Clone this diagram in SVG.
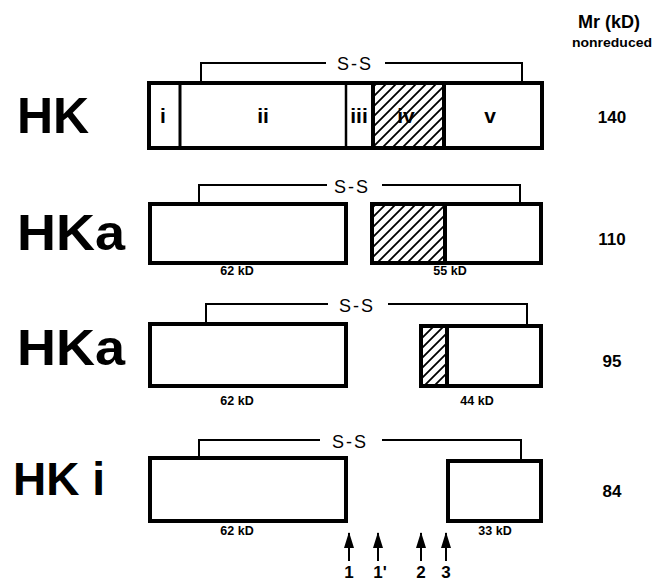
<svg xmlns="http://www.w3.org/2000/svg" width="667" height="582" viewBox="0 0 667 582">
<style>
.box{fill:#fff;stroke:#000;stroke-width:4}
.hatch{fill:url(#hatch);stroke:#000;stroke-width:4}
.div{stroke:#000;stroke-width:3}
.br{fill:none;stroke:#000;stroke-width:2}
.big{font-family:"Liberation Sans",Arial,sans-serif;font-weight:bold;font-size:50px;fill:#000}
.dom{font-family:"Liberation Sans",Arial,sans-serif;font-weight:bold;font-size:21px;fill:#000;text-anchor:middle}
.kd{font-family:"Liberation Sans",Arial,sans-serif;font-weight:bold;font-size:12.5px;fill:#000;text-anchor:middle}
.mr{font-family:"Liberation Sans",Arial,sans-serif;font-weight:bold;font-size:18px;fill:#000;text-anchor:middle}
.ss{font-family:"Liberation Sans",Arial,sans-serif;font-size:18px;fill:#000;text-anchor:middle;letter-spacing:2px}
.num{font-family:"Liberation Sans",Arial,sans-serif;font-weight:bold;font-size:17px;fill:#000;text-anchor:middle}
</style>
<defs>
<pattern id="hatch" patternUnits="userSpaceOnUse" width="10" height="10">
<path d="M-2,2 L2,-2 M0,10 L10,0 M8,12 L12,8" stroke="#000" stroke-width="1.8"/>
</pattern>
<marker id="ah" viewBox="0 0 16 10" refX="15" refY="5" markerWidth="16" markerHeight="10" markerUnits="userSpaceOnUse" orient="auto">
<path d="M0,0 L16,5 L0,10 Z" fill="#000"/>
</marker>
</defs>
<rect width="667" height="582" fill="#fff"/>

<g id="header">
<text class="mr" x="609" y="28">Mr (kD)</text>
<text class="mr" x="612" y="47" style="font-size:13px" textLength="80" lengthAdjust="spacingAndGlyphs">nonreduced</text>
</g>

<g id="row-HK">
<text class="big" x="17" y="133">HK</text>
<rect class="box" x="149" y="83" width="393" height="65"/>
<rect class="hatch" x="373" y="83" width="71" height="65"/>
<line class="div" x1="180" y1="83" x2="180" y2="148"/>
<line class="div" x1="346" y1="83" x2="346" y2="148" style="stroke-width:2.5"/>
<rect x="149" y="83" width="393" height="65" fill="none" stroke="#000" stroke-width="4"/>
<text class="dom" x="163" y="123">i</text>
<text class="dom" x="263" y="123">ii</text>
<text class="dom" x="359" y="123">iii</text>
<text class="dom" x="406" y="123">iv</text>
<text class="dom" x="490" y="123">v</text>
<text class="num" x="612" y="123">140</text>
</g>

<g id="row-HKa-110">
<text class="big" x="17" y="250" textLength="108" lengthAdjust="spacingAndGlyphs">HKa</text>
<rect class="box" x="150" y="204" width="196" height="59"/>
<rect class="box" x="372" y="204" width="169" height="59"/>
<rect class="hatch" x="372" y="204" width="73" height="59"/>
<text class="kd" x="237" y="275">62 kD</text>
<text class="kd" x="450" y="275">55 kD</text>
<text class="num" x="612" y="245">110</text>
</g>

<g id="row-HKa-95">
<text class="big" x="17" y="365" textLength="108" lengthAdjust="spacingAndGlyphs">HKa</text>
<rect class="box" x="150" y="324" width="196" height="62"/>
<rect class="box" x="421" y="326" width="120" height="60"/>
<rect class="hatch" x="421" y="326" width="26" height="60"/>
<text class="kd" x="237" y="405">62 kD</text>
<text class="kd" x="477" y="405">44 kD</text>
<text class="num" x="612" y="367">95</text>
</g>

<g id="row-HKi">
<text class="big" x="13" y="495" style="font-size:46px">HK i</text>
<rect class="box" x="150" y="458" width="196" height="63"/>
<rect class="box" x="448" y="461" width="93" height="60"/>
<text class="kd" x="237" y="535">62 kD</text>
<text class="kd" x="495" y="535">33 kD</text>
<text class="num" x="612" y="497">84</text>
</g>

<g id="connectors">
<path class="br" d="M201,81 V63 H326 M385,63 H522 V81"/>
<text class="ss" x="355" y="70">S-S</text>
<path class="br" d="M199,202 V185 H327 M382,185 H520 V202"/>
<text class="ss" x="352" y="193">S-S</text>
<path class="br" d="M206,322 V304 H328 M388,304 H527 V324"/>
<text class="ss" x="357" y="312">S-S</text>
<path class="br" d="M199,456 V440 H320 M382,440 H521 V459"/>
<text class="ss" x="350" y="448">S-S</text>
<g stroke="#000" stroke-width="2">
<line x1="349" y1="561" x2="349" y2="533" marker-end="url(#ah)"/>
<line x1="378" y1="561" x2="378" y2="533" marker-end="url(#ah)"/>
<line x1="421" y1="561" x2="421" y2="533" marker-end="url(#ah)"/>
<line x1="446" y1="561" x2="446" y2="533" marker-end="url(#ah)"/>
</g>
<text class="num" x="349" y="578">1</text>
<text class="num" x="380" y="578">1'</text>
<text class="num" x="421" y="578">2</text>
<text class="num" x="446" y="578">3</text>
</g>
</svg>
